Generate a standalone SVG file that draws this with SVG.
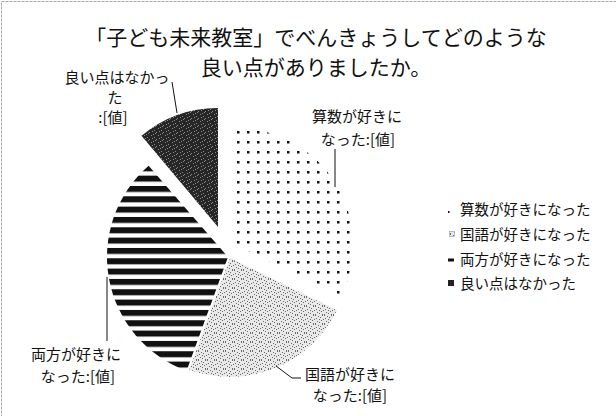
<svg xmlns="http://www.w3.org/2000/svg" width="616" height="416" viewBox="0 0 616 416">
<style>
text{font-family:"Noto Sans CJK JP","Liberation Sans",sans-serif;fill:#111}
.title{font-size:21px;text-anchor:middle}
.lbl{font-size:15px;text-anchor:middle}
.leg{font-size:14.5px}
.lead{stroke:#111;stroke-width:1;fill:none}
</style>
<defs>
<pattern id="dots" patternUnits="userSpaceOnUse" x="233" y="127" width="10" height="10">
<rect x="4" y="4" width="2.5" height="2.5" fill="#111"/>
</pattern>
<pattern id="stripes" patternUnits="userSpaceOnUse" x="0" y="165.3" width="20" height="10.33">
<rect x="0" y="0" width="20" height="6" fill="#111"/>
</pattern>
<pattern id="grey" patternUnits="userSpaceOnUse" width="9" height="9">
<rect width="9" height="9" fill="#e9e9e9"/>
<g fill="#6a6a6a">
<rect x="0" y="0" width="1" height="1"/><rect x="3" y="1" width="1" height="1"/><rect x="7" y="0" width="1" height="1"/>
<rect x="1" y="3" width="1" height="1"/><rect x="5" y="2" width="1" height="1"/><rect x="8" y="4" width="1" height="1"/>
<rect x="2" y="6" width="1" height="1"/><rect x="6" y="5" width="1" height="1"/><rect x="4" y="7" width="1" height="1"/>
<rect x="0" y="8" width="1" height="1"/><rect x="7" y="8" width="1" height="1"/><rect x="4" y="4" width="1" height="1"/>
</g>
</pattern>
<pattern id="dark" patternUnits="userSpaceOnUse" width="7" height="7">
<rect width="7" height="7" fill="#262626"/>
<g fill="#8a8a8a">
<rect x="1" y="0" width="1" height="1"/><rect x="4" y="2" width="1" height="1"/><rect x="0" y="4" width="1" height="1"/>
<rect x="5" y="5" width="1" height="1"/><rect x="2" y="6" width="1" height="1"/><rect x="6" y="1" width="1" height="1"/>
</g>
</pattern>
</defs>
<rect x="1.5" y="1.5" width="700" height="500" fill="none" stroke="#aaa" stroke-width="1" stroke-dasharray="3,1"/>
<g id="title">
<text class="title" x="316" y="45">「子ども未来教室」でべんきょうしてどのような</text>
<text class="title" x="316" y="75">良い点がありましたか。</text>
</g>
<g id="slice-sansu">
<path d="M236,245 L236,128 A117,117 0 0,1 341.2,296.3 Z" fill="url(#dots)"/>
</g>
<g id="slice-kokugo">
<path d="M230,258 L337,310.2 A119,119 0 0,1 189.3,369.8 Z" fill="url(#grey)"/>
</g>
<g id="slice-ryouhou">
<path d="M228,257 L186.6,370.7 A121,121 0 0,1 148.6,165.7 Z" fill="url(#stripes)"/>
</g>
<g id="slice-nashi">
<path d="M218,227 L141.5,135.8 A119,119 0 0,1 218,108 Z" fill="url(#dark)"/>
</g>
<g id="connectors">
<path class="lead" d="M172,82 L177,113"/>
<path class="lead" d="M335,149 L335,187"/>
<path class="lead" d="M276,366 L292,378 L301,378"/>
<path class="lead" d="M107,277 L107,341"/>
</g>
<g id="label-nashi">
<text class="lbl" x="117" y="83">良い点はなかっ</text>
<text class="lbl" x="115" y="102.5">た</text>
<text class="lbl" x="113" y="122.5">:[値]</text>
</g>
<g id="label-sansu">
<text class="lbl" x="357" y="122">算数が好きに</text>
<text class="lbl" x="358" y="145">なった:[値]</text>
</g>
<g id="label-kokugo">
<text class="lbl" x="350" y="380">国語が好きに</text>
<text class="lbl" x="350" y="401">なった:[値]</text>
</g>
<g id="label-ryouhou">
<text class="lbl" x="76" y="360">両方が好きに</text>
<text class="lbl" x="78" y="382">なった:[値]</text>
</g>
<g id="legend">
<rect x="448" y="207" width="6" height="6" fill="url(#dots)"/>
<text class="leg" x="460" y="215">算数が好きになった</text>
<rect x="449.5" y="231.5" width="5" height="5" fill="url(#grey)" stroke="#999" stroke-width="0.6"/>
<text class="leg" x="460" y="240">国語が好きになった</text>
<rect x="448" y="258.5" width="6" height="3" fill="#111"/>
<text class="leg" x="460" y="265">両方が好きになった</text>
<rect x="448" y="280" width="6" height="6" fill="#222"/>
<text class="leg" x="460" y="289">良い点はなかった</text>
</g>
</svg>
